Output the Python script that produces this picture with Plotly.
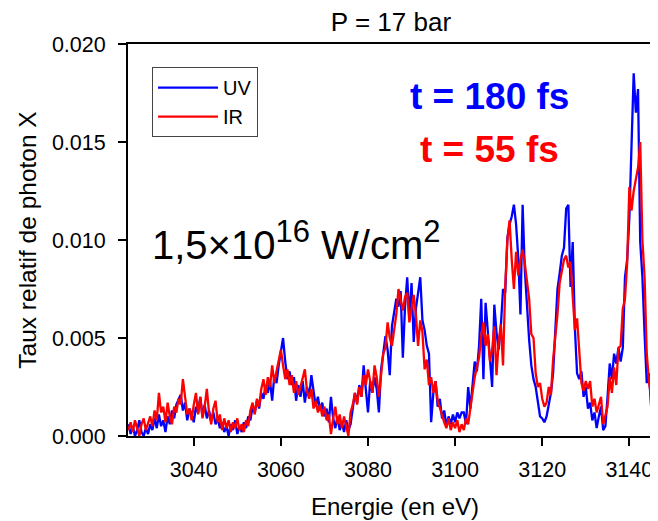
import plotly.graph_objects as go

# Energy grid: spectrometer channels every 0.5 eV from 3025 eV
E_START = 3025.0
E_STEP = 0.5

# Relative X-photon yield, in units of 1e-3 (rows of 10 channels = 5 eV each)
uv_milli = [
    0.6, 0.1, 0.5, 0.0, 0.3, 0.8, 0.2, 0.0, 0.4, 0.1,   # 3025
    0.6, 0.3, 0.9, 0.4, 1.1, 0.5, 0.8, 0.2, 1.0, 0.6,   # 3030
    1.3, 0.9, 1.6, 1.9, 2.1, 1.3, 1.7, 0.8, 1.4, 1.1,   # 3035
    0.7, 1.5, 1.2, 2.0, 1.0, 1.6, 0.9, 1.3, 0.8, 1.2,   # 3040
    0.6, 0.9, 0.4, 0.7, 0.2, 0.5, 0.0, 0.6, 0.3, 0.8,   # 3045
    0.1, 0.5, 0.2, 0.7, 0.4, 1.0, 0.8, 1.5, 1.2, 1.8,   # 3050
    1.4, 2.2, 1.9, 2.6, 2.2, 2.8, 1.8, 3.1, 2.7, 3.6,   # 3055
    4.2, 5.0, 3.8, 2.9, 3.3, 2.6, 3.0, 1.8, 2.6, 2.0,   # 3060
    2.8, 1.7, 2.5, 2.0, 3.1, 2.4, 1.5, 2.0, 1.3, 1.7,   # 3065
    1.0, 1.4, 0.7, 2.0, 0.9, 0.4, 1.0, 0.3, 0.7, 0.2,   # 3070
    0.8, 0.3, 0.6, 1.4, 2.2, 1.7, 2.6, 2.0, 3.6, 2.4,   # 3075
    1.2, 2.8, 2.2, 3.0, 2.4, 1.2, 3.4, 4.2, 5.1, 4.4,   # 3080
    3.1, 5.6, 6.4, 7.0, 6.6, 7.4, 4.0, 6.6, 8.1, 6.0,   # 3085
    7.8, 4.8, 6.5, 7.2, 8.1, 5.9, 5.4, 4.6, 4.2, 0.7,   # 3090
    2.2, 2.8, 1.5, 1.9, 0.9, 1.3, 0.5, 1.0, 0.6, 1.1,   # 3095
    0.7, 1.2, 0.9, 1.2, 1.2, 0.6, 2.5, 1.4, 2.7, 3.8,   # 3100
    3.3, 4.6, 7.0, 2.9, 6.8, 5.5, 4.2, 2.5, 6.7, 5.3,   # 3105
    4.4, 5.6, 7.5, 7.3, 10.1, 10.8, 11.2, 11.8, 10.8, 9.1,   # 3110
    6.2, 11.8, 8.5, 6.5, 4.9, 3.6, 2.9, 2.5, 1.6, 1.0,  # 3115
    0.9, 0.7, 1.0, 1.6, 2.2, 3.2, 5.2, 7.5, 8.3, 9.2,   # 3120
    9.6, 11.6, 11.8, 7.6, 9.9, 5.5, 3.2, 2.9, 3.3, 2.0,  # 3125
    2.5, 1.4, 1.7, 0.8, 1.2, 0.4, 1.0, 1.5, 0.3, 0.5,   # 3130
    2.0, 3.7, 2.9, 4.2, 3.7, 4.5, 3.8, 4.5, 8.1, 9.0,   # 3135
    11.1, 15.3, 18.5, 16.5, 17.7, 9.9, 8.1, 5.2, 2.7, 3.2,  # 3140
    1.5, 0.9, 0.3, 1.2, 1.0,                             # 3145
]

ir_milli = [
    0.3, 0.7, 0.2, 0.8, 0.4, 0.0, 0.6, 0.9, 0.3, 0.7,   # 3025
    1.0, 0.5, 1.3, 0.8, 2.2, 1.2, 1.5, 0.7, 1.7, 1.0,   # 3030
    0.6, 1.5, 1.2, 1.9, 1.6, 2.9, 2.0, 1.1, 1.4, 0.8,   # 3035
    1.6, 2.2, 1.1, 2.0, 0.9, 1.5, 2.4, 1.2, 0.6, 1.4,   # 3040
    1.8, 0.7, 1.1, 0.3, 0.9, 0.4, 0.8, 0.2, 0.7, 0.4,   # 3045
    0.9, 0.3, 0.6, 0.2, 0.8, 0.5, 1.3, 1.7, 1.1, 1.9,   # 3050
    1.5, 2.4, 2.9, 2.1, 3.0, 2.5, 3.6, 2.7, 3.3, 3.9,   # 3055
    4.4, 3.6, 2.9, 3.4, 2.6, 3.1, 2.2, 2.8, 2.1, 2.5,   # 3060
    3.0, 3.4, 2.3, 1.9, 2.4, 1.4, 1.8, 1.2, 1.6, 1.0,   # 3065
    1.5, 0.8, 1.1, 0.1, 0.9, 1.5, 0.6, 1.1, 0.4, 1.0,   # 3070
    0.5, 0.0, 1.2, 1.6, 2.2, 1.6, 2.5, 2.0, 3.1, 2.6,   # 3075
    3.4, 2.7, 2.2, 3.6, 3.0, 2.0, 3.2, 4.2, 4.5, 5.8,   # 3080
    5.0, 4.6, 5.4, 6.2, 7.5, 7.0, 6.4, 7.1, 7.3, 5.8,   # 3085
    6.6, 7.2, 6.2, 4.6, 5.9, 5.3, 3.4, 3.9, 2.6, 3.0,   # 3090
    2.2, 2.8, 1.8, 1.4, 1.1, 0.7, 0.4, 0.9, 0.3, 0.7,   # 3095
    0.4, 0.8, 0.2, 0.6, 0.3, 0.9, 0.6, 1.5, 2.3, 3.0,   # 3100
    3.5, 4.0, 5.1, 5.8, 4.6, 5.2, 3.8, 4.4, 5.6, 3.1,   # 3105
    4.8, 5.7, 3.6, 7.6, 10.0, 11.0, 9.0, 7.5, 9.4, 8.2,  # 3110
    9.0, 9.5, 8.8, 8.0, 7.0, 5.2, 5.0, 3.2, 2.5, 2.7,   # 3115
    1.9, 1.5, 1.7, 2.5, 2.1, 3.9, 4.9, 6.2, 7.8, 8.5,   # 3120
    9.0, 9.2, 8.6, 8.9, 7.0, 5.4, 6.0, 4.2, 2.7, 2.3,   # 3125
    2.8, 2.4, 2.8, 1.5, 1.9, 1.2, 1.6, 2.0, 0.6, 1.1,   # 3130
    1.5, 3.0, 2.2, 3.5, 2.6, 4.5, 4.6, 6.5, 7.0, 8.8,   # 3135
    12.7, 11.5, 12.5, 13.1, 13.7, 15.0, 10.0, 8.1, 4.2, 2.8,  # 3140
    2.0, 1.5, 1.2, 1.5, 1.3,                             # 3145
]

energy = [E_START + E_STEP * i for i in range(len(uv_milli))]
uv = [v * 1e-3 for v in uv_milli]
ir = [v * 1e-3 for v in ir_milli]

x_ticks = [3040, 3060, 3080, 3100, 3120, 3140]
y_ticks = [0.000, 0.005, 0.010, 0.015, 0.020]

FONT = "Liberation Sans, Arial, sans-serif"

fig = go.Figure()
fig.add_trace(go.Scatter(x=energy, y=uv, mode="lines", name="UV",
                         line=dict(color="#0000ff", width=2.3)))
fig.add_trace(go.Scatter(x=energy, y=ir, mode="lines", name="IR",
                         line=dict(color="#ff0000", width=2.3)))

fig.update_layout(
    width=658, height=521,
    margin=dict(l=120, r=4, t=36, b=93, autoexpand=False),
    paper_bgcolor="white", plot_bgcolor="white",
    font=dict(family=FONT, color="black", size=21),
    title=dict(text="P = 17 bar", x=0.582, xanchor="center", y=0.973, yanchor="middle",
               font=dict(size=26, family=FONT)),
    showlegend=True,
    legend=dict(x=0.045, y=0.941, xanchor="left", yanchor="top",
                bgcolor="white", bordercolor="#444444", borderwidth=1,
                font=dict(size=20, family=FONT), tracegroupgap=0,
                itemwidth=60),
    xaxis=dict(range=[3024.9, 3147.5], tickvals=x_ticks,
               showgrid=False, zeroline=False,
               showline=True, linecolor="black", linewidth=2, mirror=True,
               ticks="outside", ticklen=8, tickwidth=2, tickcolor="black",
               tickfont=dict(size=21.5), ticklabelstandoff=5,
               title=dict(text="Energie (en eV)", font=dict(size=24), standoff=17)),
    yaxis=dict(range=[0, 0.020], tickvals=y_ticks, tickformat=".3f",
               showgrid=False, zeroline=False,
               showline=True, linecolor="black", linewidth=2, mirror=True,
               ticks="outside", ticklen=8, tickwidth=2, tickcolor="black",
               tickfont=dict(size=21.5), ticklabelstandoff=8,
               title=dict(text="Taux relatif de photon X", font=dict(size=24.5), standoff=8)),
    annotations=[
        dict(text="<b>t = 180 fs</b>", x=0.677, y=0.867, xref="paper", yref="paper",
             xanchor="center", yanchor="middle",
             showarrow=False, font=dict(size=37, color="#0000ff", family=FONT)),
        dict(text="<b>t = 55 fs</b>", x=0.677, y=0.730, xref="paper", yref="paper",
             xanchor="center", yanchor="middle",
             showarrow=False, font=dict(size=37, color="#ff0000", family=FONT)),
        dict(text="1,5×10<sup><span style='font-size:31px'>16</span></sup> W/cm<sup><span style='font-size:31px'>2</span></sup>",
             x=0.042, y=0.50,
             xref="paper", yref="paper", xanchor="left", yanchor="middle",
             showarrow=False, font=dict(size=40, color="black", family=FONT)),
    ],
)

fig.write_html("out.html")
